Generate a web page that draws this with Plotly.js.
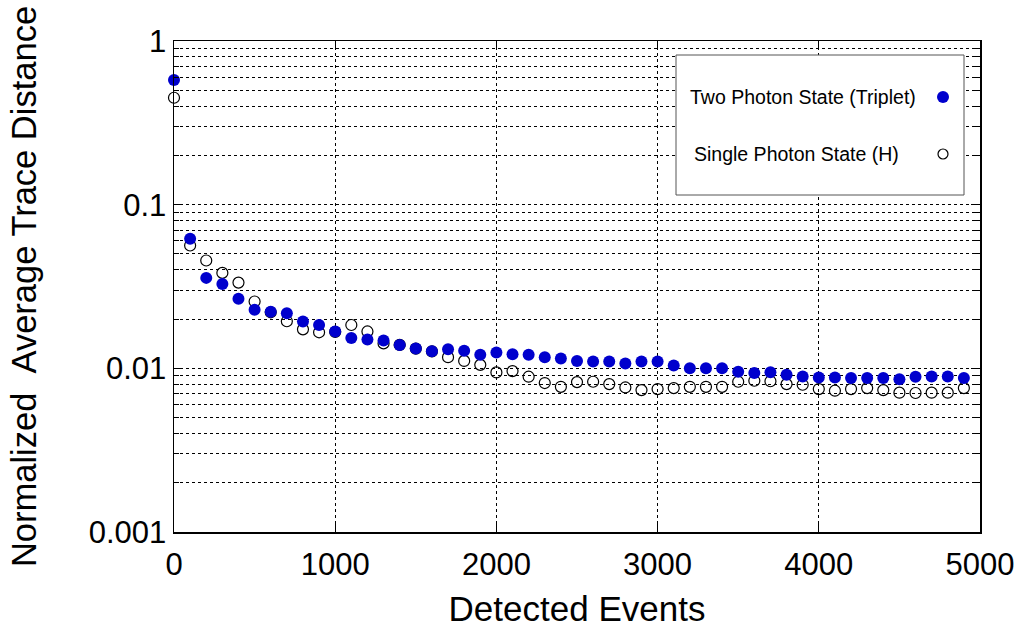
<!DOCTYPE html>
<html>
<head>
<meta charset="utf-8">
<script src="https://cdn.plot.ly/plotly-3.0.1.min.js"></script>
<style>html,body{margin:0;padding:0;background:#fff;}#chart{width:1032px;height:633px;}</style>
</head>
<body>
<div id="chart"></div>
<script>
// Detected events (x)
const events = [0,100,200,300,400,500,600,700,800,900,
  1000,1100,1200,1300,1400,1500,1600,1700,1800,1900,
  2000,2100,2200,2300,2400,2500,2600,2700,2800,2900,
  3000,3100,3200,3300,3400,3500,3600,3700,3800,3900,
  4000,4100,4200,4300,4400,4500,4600,4700,4800,4900];

// Two Photon State (Triplet) - filled blue circles
const twoPhoton = [0.577,0.0619,0.0357,0.0328,0.0266,0.0228,0.0222,0.0217,0.0193,0.0184,
  0.0168,0.0153,0.0150,0.0148,0.0139,0.0132,0.0127,0.0131,0.0128,0.0121,
  0.0125,0.0122,0.0121,0.0117,0.0115,0.0111,0.0110,0.0110,0.0107,0.0110,
  0.0110,0.0104,0.0100,0.0100,0.0100,0.00953,0.00935,0.00945,0.00914,0.00892,
  0.00879,0.00879,0.00872,0.00872,0.00872,0.00859,0.00889,0.00892,0.00892,0.00872];

// Single Photon State (H) - open circles
const singlePhoton = [0.45,0.0563,0.0456,0.0383,0.0334,0.0256,0.0220,0.0194,0.0173,0.0166,
  0.0167,0.0184,0.0168,0.0142,0.0139,0.0132,0.0127,0.0117,0.0111,0.0105,
  0.00944,0.00962,0.00889,0.00813,0.00771,0.00824,0.00828,0.00801,0.00764,0.00736,
  0.00747,0.00757,0.00771,0.00771,0.00771,0.00828,0.00840,0.00834,0.00801,0.00794,
  0.00747,0.00730,0.00747,0.00757,0.00736,0.00710,0.00707,0.00710,0.00710,0.00757];

const seriesNames = ['Two Photon State (Triplet)', 'Single Photon State (H)'];
const yTickVals = [0.001, 0.01, 0.1, 1];
const yTickText = ['0.001', '0.01', '0.1', '1'];
const xTickVals = [0, 1000, 2000, 3000, 4000, 5000];
const xTickText = ['0', '1000', '2000', '3000', '4000', '5000'];

const FONT = 'Liberation Sans, Arial, Helvetica, sans-serif';
const BLUE = 'rgb(0,0,205)';

const traces = [
  {
    x: events, y: singlePhoton, type: 'scatter', mode: 'markers', name: seriesNames[1],
    cliponaxis: false,
    marker: {symbol: 'circle-open', size: 11, color: '#000', line: {width: 1.2, color: '#000'}}
  },
  {
    x: events, y: twoPhoton, type: 'scatter', mode: 'markers', name: seriesNames[0],
    cliponaxis: false,
    marker: {symbol: 'circle', size: 12, color: BLUE, line: {width: 0}}
  }
];

// legend geometry in paper coords
const pxX = p => (p - 174) / 806;
const pxY = p => (532 - p) / 491;

const layout = {
  width: 1032, height: 633,
  margin: {l: 174, r: 52, t: 41, b: 101},
  paper_bgcolor: '#fff', plot_bgcolor: '#fff',
  showlegend: false,
  font: {family: FONT, color: '#000'},
  xaxis: {
    range: [0, 5000],
    tickmode: 'array', tickvals: xTickVals, ticktext: xTickText,
    ticks: 'inside', ticklen: 9, tickwidth: 1, tickcolor: '#000',
    ticklabelstandoff: 4,
    showline: true, linecolor: '#000', linewidth: 1.5, mirror: 'allticks',
    showgrid: true, gridcolor: '#000', griddash: 'dot', gridwidth: 1,
    zeroline: false,
    tickfont: {size: 31, family: FONT},
    title: {text: 'Detected Events', font: {size: 35, family: FONT}, standoff: 16}
  },
  yaxis: {
    type: 'log', range: [-3, 0],
    tickmode: 'array', tickvals: yTickVals, ticktext: yTickText,
    ticks: 'inside', ticklen: 9, tickwidth: 1, tickcolor: '#000',
    showline: true, linecolor: '#000', linewidth: 1.5, mirror: 'allticks',
    showgrid: true, gridcolor: '#000', griddash: 'dot', gridwidth: 1,
    zeroline: false,
    tickfont: {size: 31, family: FONT},
    minor: {dtick: 'D1', ticks: 'inside', ticklen: 5, tickcolor: '#000',
            showgrid: true, gridcolor: '#000', griddash: 'dot', gridwidth: 1},
    title: {text: 'Normalized&nbsp;&nbsp;Average Trace Distance', font: {size: 34.5, family: FONT}, standoff: 41}
  },
  shapes: [
    {type: 'rect', xref: 'paper', yref: 'paper', x0: pxX(676), x1: pxX(964), y0: pxY(195), y1: pxY(55),
     line: {color: '#555', width: 1}, fillcolor: '#fff', layer: 'above'},
    {type: 'circle', xref: 'paper', yref: 'paper', xsizemode: 'pixel', ysizemode: 'pixel',
     xanchor: pxX(943), yanchor: pxY(97), x0: -6, x1: 6, y0: -6, y1: 6,
     fillcolor: BLUE, line: {width: 0}, layer: 'above'},
    {type: 'circle', xref: 'paper', yref: 'paper', xsizemode: 'pixel', ysizemode: 'pixel',
     xanchor: pxX(943), yanchor: pxY(154), x0: -5, x1: 5, y0: -5, y1: 5,
     fillcolor: '#fff', line: {width: 1.2, color: '#000'}, layer: 'above'}
  ],
  annotations: [
    {xref: 'paper', yref: 'paper', x: pxX(688), y: pxY(97), xanchor: 'left', yanchor: 'middle',
     text: seriesNames[0], showarrow: false, font: {size: 19.5, family: FONT, color: '#000'}},
    {xref: 'paper', yref: 'paper', x: pxX(692), y: pxY(154), xanchor: 'left', yanchor: 'middle',
     text: seriesNames[1], showarrow: false, font: {size: 19.5, family: FONT, color: '#000'}}
  ]
};

Plotly.newPlot('chart', traces, layout, {staticPlot: true, displayModeBar: false});
</script>
</body>
</html>
